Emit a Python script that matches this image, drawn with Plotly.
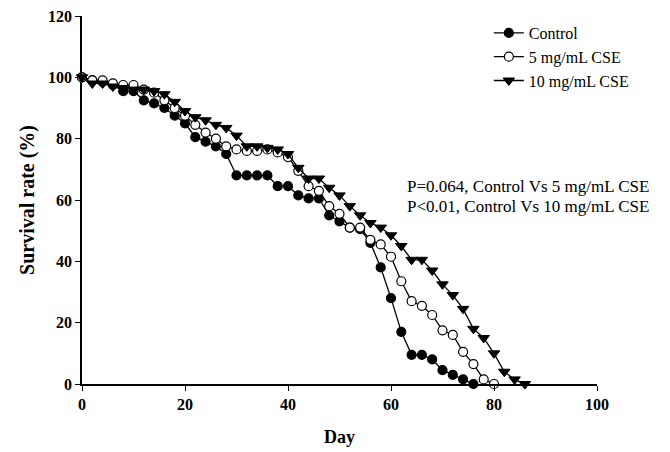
import plotly.graph_objects as go

days_control = list(range(0, 78, 2))
control = [100, 99, 98.5, 97.5, 95.5, 95.5, 92.5, 91.5, 90, 87.5, 85, 80.5, 79, 77.5, 75,
           68, 68, 68, 68, 64.5, 64.5, 61.5, 60.5, 60.5, 55, 53, 51, 50.5, 46, 38,
           28, 17, 9.5, 9.5, 8, 4.5, 3, 1.5, 0]

days_cse5 = list(range(0, 82, 2))
cse5 = [100, 99, 99, 98, 97.5, 97.5, 96, 95, 92.5, 90, 87.5, 84.5, 82, 80, 77.5,
        76.5, 76, 76, 76.5, 75.5, 74, 69.5, 64.5, 63, 58, 55.5, 51, 51, 47, 45.5,
        41.5, 33.5, 27, 25.5, 22.5, 17.5, 16, 10.5, 6.5, 1.5, 0]

days_cse10 = list(range(0, 88, 2))
cse10 = [100, 98, 98, 97, 96.5, 96, 96, 95.5, 94.5, 92, 89, 87, 86, 84.5, 83.5,
         81, 77.5, 77.5, 77, 76.5, 75, 70.5, 67, 67, 64, 61.5, 58, 55, 52.5, 51,
         48.5, 45, 40.5, 40.5, 37, 32.5, 29, 24.5, 18, 15, 10, 4, 1.5, 0]

series_names = ["Control", "5 mg/mL CSE", "10 mg/mL CSE"]
x_ticks = [0, 20, 40, 60, 80, 100]
y_ticks = [0, 20, 40, 60, 80, 100, 120]
annotations_text = ["P=0.064, Control Vs 5 mg/mL CSE", "P<0.01, Control Vs 10 mg/mL CSE"]

FONT = "Liberation Serif, Times New Roman, serif"

fig = go.Figure()
styles = [
    dict(symbol="circle", color="black", line=dict(color="black", width=1.2), size=9),
    dict(symbol="circle", color="white", line=dict(color="black", width=1.2), size=9),
    dict(symbol="triangle-down", color="black", line=dict(color="black", width=1), size=10),
]
for name, xs, ys, st in zip(series_names, [days_control, days_cse5, days_cse10],
                            [control, cse5, cse10], styles):
    fig.add_trace(go.Scatter(
        x=xs, y=ys, name=name, mode="lines+markers",
        line=dict(color="black", width=1.3),
        marker=st, cliponaxis=False,
    ))

fig.update_layout(
    width=670, height=452,
    margin=dict(l=82, r=73, t=16, b=68),
    paper_bgcolor="white", plot_bgcolor="white",
    font=dict(family=FONT, size=16, color="black"),
    showlegend=True,
    legend=dict(x=0.79, y=1.0, xanchor="left", yanchor="top",
                bgcolor="rgba(0,0,0,0)", font=dict(family=FONT, size=16),
                tracegroupgap=0, itemwidth=30),
    xaxis=dict(range=[0, 100], tickvals=x_ticks, ticks="outside", ticklen=5,
               tickwidth=1.3, tickcolor="black", automargin=False,
               showline=True, linecolor="black", linewidth=1.5,
               showgrid=False, zeroline=False,
               tickfont=dict(family=FONT, size=16, weight="bold"),
               title=dict(text="<b>Day</b>", font=dict(family=FONT, size=18), standoff=18)),
    yaxis=dict(range=[0, 120], tickvals=y_ticks, ticks="outside", ticklen=5,
               tickwidth=1.3, tickcolor="black", automargin=False,
               showline=True, linecolor="black", linewidth=1.5,
               showgrid=False, zeroline=False,
               tickfont=dict(family=FONT, size=16, weight="bold"),
               title=dict(text="<b>Survival rate (%)</b>", font=dict(family=FONT, size=20), standoff=8)),
)

for i, txt in enumerate(annotations_text):
    fig.add_annotation(text=txt, xref="paper", yref="paper", x=0.628, y=0.538 - i * 0.057,
                       xanchor="left", yanchor="middle", showarrow=False,
                       font=dict(family=FONT, size=17, color="black"))

fig.write_html("out.html")
